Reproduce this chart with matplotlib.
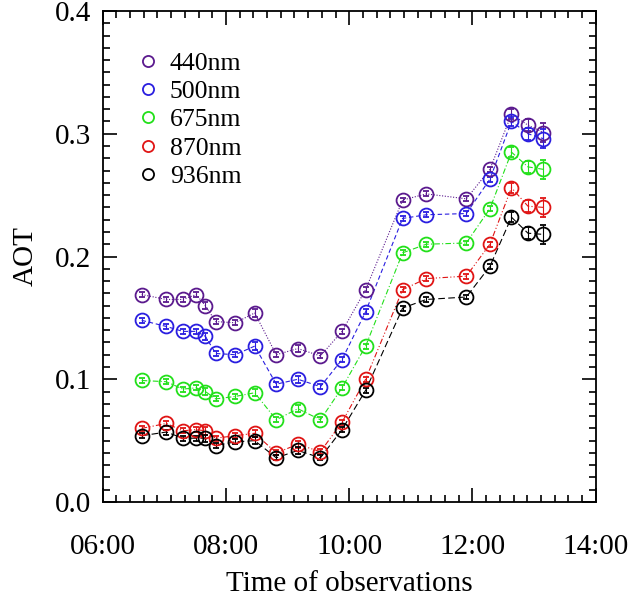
import matplotlib
matplotlib.use('Agg')
import matplotlib.pyplot as plt
from matplotlib.ticker import MultipleLocator, FuncFormatter

plt.rcParams['font.family'] = ['Liberation Serif', 'DejaVu Serif']

# observation times (HH:MM)
times = ['06:38', '07:02', '07:18', '07:31', '07:40', '07:50', '08:09', '08:28',
         '08:49', '09:10', '09:32', '09:53', '10:16', '10:52', '11:15', '11:54',
         '12:17', '12:38', '12:54', '13:09']

aot_440 = [0.169, 0.165, 0.165, 0.169, 0.160, 0.147, 0.146, 0.154,
           0.120, 0.125, 0.119, 0.139, 0.173, 0.246, 0.251, 0.247,
           0.271, 0.316, 0.307, 0.301]
aot_500 = [0.148, 0.143, 0.139, 0.139, 0.135, 0.121, 0.120, 0.127,
           0.096, 0.100, 0.094, 0.116, 0.155, 0.231, 0.234, 0.235,
           0.263, 0.310, 0.300, 0.296]
aot_675 = [0.099, 0.098, 0.092, 0.093, 0.090, 0.084, 0.086, 0.089,
           0.067, 0.076, 0.067, 0.093, 0.127, 0.203, 0.210, 0.211,
           0.239, 0.285, 0.273, 0.271]
aot_870 = [0.060, 0.064, 0.058, 0.059, 0.058, 0.052, 0.054, 0.056,
           0.040, 0.047, 0.041, 0.065, 0.100, 0.173, 0.182, 0.184,
           0.210, 0.256, 0.241, 0.240]
aot_936 = [0.054, 0.057, 0.052, 0.052, 0.052, 0.046, 0.049, 0.050,
           0.036, 0.042, 0.036, 0.059, 0.091, 0.158, 0.165, 0.167,
           0.192, 0.232, 0.219, 0.218]

# error bars (same for every wavelength, larger at the end of the day)
aot_err = [0.002, 0.002, 0.002, 0.002, 0.003, 0.002, 0.002, 0.003,
           0.002, 0.003, 0.002, 0.002, 0.002, 0.002, 0.002, 0.002,
           0.002, 0.004, 0.005, 0.008]

labels = ['440nm', '500nm', '675nm', '870nm', '936nm']
colors = ['#5b1a8e', '#2a1ee0', '#22e01a', '#e01414', 'black']
styles = [(0, (1, 1.5)), (0, (4, 2.5)), (0, (5, 2, 1, 2)), (0, (5, 2, 1, 2, 1, 2)), (0, (6, 3))]
series = [aot_440, aot_500, aot_675, aot_870, aot_936]

hours = [int(t[:2]) + int(t[3:]) / 60 for t in times]

fig = plt.figure(figsize=(6.28, 5.97), dpi=100)
ax = fig.add_axes([0.1635, 0.1591, 0.7851, 0.8225])

for y, lab, c, ls in zip(series, labels, colors, styles):
    ax.plot(hours, y, color=c, linestyle=ls, linewidth=0.8)
    ax.errorbar(hours, y, yerr=aot_err, fmt='o', mfc='none', mec=c, ecolor=c,
                ms=10, mew=1.3, elinewidth=0.8, capsize=2.5, capthick=0.8)
    ax.plot([], [], 'o', mfc='none', mec=c, ms=8, mew=1.3, label=lab)

ax.set_xlim(6, 14)
ax.set_ylim(0, 0.4)
ax.xaxis.set_major_locator(MultipleLocator(2))
ax.xaxis.set_minor_locator(MultipleLocator(2 / 9))
ax.xaxis.set_major_formatter(FuncFormatter(lambda v, p: '%02d:00' % int(round(v))))
ax.yaxis.set_major_locator(MultipleLocator(0.1))
ax.yaxis.set_minor_locator(MultipleLocator(0.01))
ax.yaxis.set_major_formatter(FuncFormatter(lambda v, p: '%.1f' % v))
ax.tick_params(which='both', direction='in', top=True, right=True, labelsize=21, width=1.2)
ax.tick_params(which='major', length=10)
ax.tick_params(axis='x', which='major', pad=23)
ax.tick_params(axis='y', which='major', pad=8)
ax.tick_params(which='minor', length=5)
for s in ax.spines.values():
    s.set_linewidth(1.3)

ax.set_xlabel('Time of observations', fontsize=21, labelpad=8)
ax.set_ylabel('AOT', fontsize=21, labelpad=12)

leg = ax.legend(loc='upper left', frameon=False, fontsize=18.5, handletextpad=0.25,
                labelspacing=0.2, borderaxespad=0, bbox_to_anchor=(0.04, 0.937), handlelength=1.2)

fig.savefig('out.png', dpi=100)
